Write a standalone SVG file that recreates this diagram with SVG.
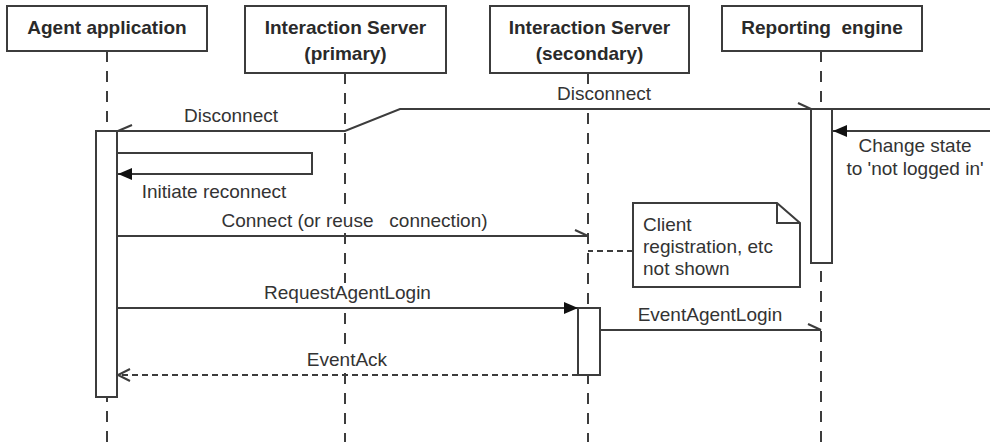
<svg xmlns="http://www.w3.org/2000/svg" width="990" height="442" viewBox="0 0 990 442">
<style>
  .box { fill: #ffffff; stroke: #3c3c3c; stroke-width: 2; }
  .life { fill: none; stroke: #3c3c3c; stroke-width: 2; stroke-dasharray: 11 9; }
  .msg { fill: none; stroke: #3c3c3c; stroke-width: 2; }
  .ret { fill: none; stroke: #3c3c3c; stroke-width: 2; stroke-dasharray: 6 4; }
  .bg { fill: #ffffff; stroke: none; }
  .hdr { font-family: "Liberation Sans", Arial, sans-serif; font-size: 19px; font-weight: bold; fill: #2a2a2a; text-anchor: middle; }
  .lbl { font-family: "Liberation Sans", Arial, sans-serif; font-size: 19px; fill: #333333; text-anchor: middle; }
  .note { font-family: "Liberation Sans", Arial, sans-serif; font-size: 19px; fill: #333333; }
</style>
<defs>
  <marker id="halfR" markerUnits="userSpaceOnUse" orient="auto" overflow="visible" refX="0" refY="0" markerWidth="16" markerHeight="16">
    <path d="M0,0 L-13,-6" fill="none" stroke="#3c3c3c" stroke-width="2"/>
  </marker>
  <marker id="halfL" markerUnits="userSpaceOnUse" orient="auto" overflow="visible" refX="0" refY="0" markerWidth="16" markerHeight="16">
    <path d="M0,0 L-14,6" fill="none" stroke="#3c3c3c" stroke-width="2"/>
  </marker>
  <marker id="filled" markerUnits="userSpaceOnUse" orient="auto" overflow="visible" refX="0" refY="0" markerWidth="16" markerHeight="16">
    <path d="M0,0 L-14,-6 L-14,6 Z" fill="#111111" stroke="none"/>
  </marker>
  <marker id="open" markerUnits="userSpaceOnUse" orient="auto" overflow="visible" refX="0" refY="0" markerWidth="16" markerHeight="16">
    <path d="M-12,-6 L0,0 L-12,6" fill="none" stroke="#3c3c3c" stroke-width="2"/>
  </marker>
</defs>
<rect width="990" height="442" fill="#ffffff"/>

<g id="lifelines">
  <line class="life" x1="107" y1="51" x2="107" y2="442"/>
  <line class="life" x1="345" y1="73" x2="345" y2="442"/>
  <line class="life" x1="588" y1="73" x2="588" y2="442"/>
  <line class="life" x1="821" y1="51" x2="821" y2="442"/>
</g>

<g id="agent">
  <rect class="box" x="7" y="6" width="200" height="45"/>
  <text class="hdr" x="107" y="34">Agent application</text>
  <rect class="box" x="96" y="131" width="21" height="266"/>
</g>

<g id="primary">
  <rect class="box" x="245" y="6" width="201" height="67"/>
  <text class="hdr" x="345.5" y="34">Interaction Server</text>
  <text class="hdr" x="345.5" y="60">(primary)</text>
</g>

<g id="secondary">
  <rect class="box" x="490" y="6" width="199" height="67"/>
  <text class="hdr" x="589.5" y="34">Interaction Server</text>
  <text class="hdr" x="589.5" y="60">(secondary)</text>
  <rect class="box" x="578" y="308" width="22" height="67"/>
</g>

<g id="reporting">
  <rect class="box" x="722" y="6" width="200" height="45"/>
  <text class="hdr" x="822" y="34" xml:space="preserve">Reporting  engine</text>
  <rect class="box" x="811" y="109" width="21" height="154"/>
</g>

<g id="note">
  <path class="box" d="M633,203 H777 L800,223 V287 H633 Z"/>
  <path class="msg" d="M777,203 V223 H800"/>
  <text class="note" x="643" y="231">Client</text>
  <text class="note" x="643" y="253">registration, etc</text>
  <text class="note" x="643" y="275">not shown</text>
</g>

<g id="connectors">
  <path class="msg" d="M990,109 H400 L345,131 H118" marker-end="url(#halfL)"/>
  <path class="msg" d="M400,109 H811" marker-end="url(#halfR)"/>
  <path class="msg" d="M990,131 H833" marker-end="url(#filled)"/>
  <path class="msg" d="M117,153 H312 V174 H118" marker-end="url(#filled)"/>
  <path class="msg" d="M117,236 H588" marker-end="url(#halfR)"/>
  <path class="ret" d="M633,251 H588"/>
  <path class="msg" d="M117,308 H578" marker-end="url(#filled)"/>
  <path class="msg" d="M600,330 H821" marker-end="url(#halfR)"/>
  <path class="ret" d="M578,375 H118" marker-end="url(#open)"/>
</g>

<g id="labels">
  <rect class="bg" x="555" y="84" width="98" height="21"/>
  <rect class="bg" x="217" y="210" width="276" height="22"/>
  <rect class="bg" x="262" y="283" width="172" height="22"/>
  <rect class="bg" x="306" y="350" width="83" height="21"/>
  <text class="lbl" x="231" y="122">Disconnect</text>
  <text class="lbl" x="604" y="100">Disconnect</text>
  <text class="lbl" x="915" y="152">Change state</text>
  <text class="lbl" x="915" y="175">to 'not logged in'</text>
  <text class="lbl" x="214" y="198">Initiate reconnect</text>
  <text class="lbl" x="354.5" y="227" xml:space="preserve">Connect (or reuse   connection)</text>
  <text class="lbl" x="347.5" y="299">RequestAgentLogin</text>
  <text class="lbl" x="710" y="321">EventAgentLogin</text>
  <text class="lbl" x="347" y="366">EventAck</text>
</g>
</svg>
